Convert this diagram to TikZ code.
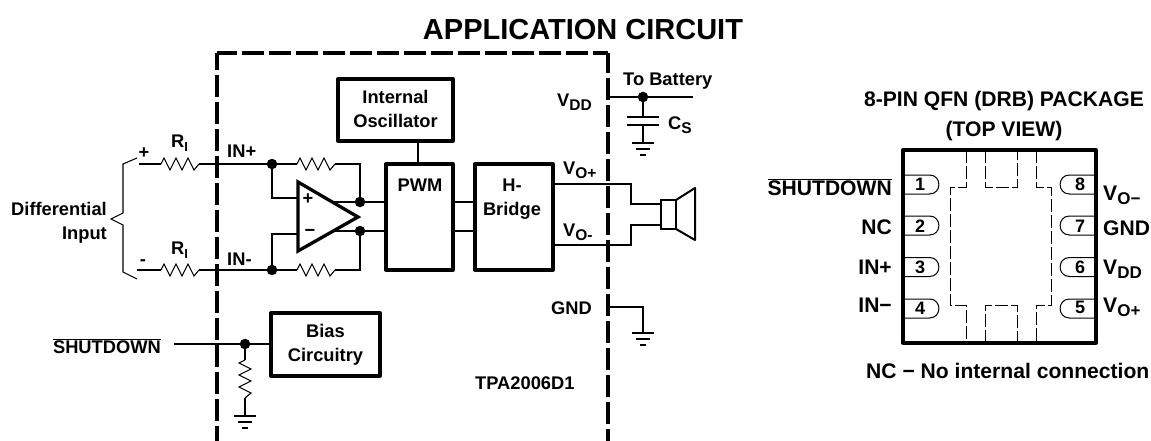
\documentclass[tikz,border=0pt]{standalone}
\usepackage{fontspec}
\setmainfont{Liberation Sans}
\newcommand{\lowsub}[2][15.5]{\raisebox{-4pt}{\fontsize{#1}{#1}\selectfont #2}}
\newcommand{\barred}[1]{$\overline{\mbox{#1}}$}
\begin{document}
\begin{tikzpicture}[x=1pt,y=-1pt]

\tikzset{mybox/.style={rectangle,draw,line width=3.3pt,inner sep=0pt,line join=round},}
\tikzset{mydot/.style={circle,fill=black,minimum size=10.5pt,inner sep=0pt,},}
\tikzset{mywire/.style={line width=1.1pt,},}
\tikzset{mydash/.style={line width=3.5pt,dash pattern=on 22pt off 5pt},}
\tikzset{mylabel/.style={inner sep=0pt,align=center,font=\fontsize{18.3}{24}\selectfont\bfseries},}
\tikzset{mylabel2/.style={inner sep=0pt,align=center,font=\fontsize{21.1}{30}\selectfont\bfseries},}
\tikzset{mypin/.style={inner sep=0pt,font=\fontsize{18}{20}\selectfont\bfseries},}
\tikzset{myhole/.style={line width=1pt,dash pattern=on 13pt off 3pt},}
\tikzset{mygnd/.pic={
  \draw[line width=1.1pt] (-11,0) -- (11,0);
  \draw[line width=1.1pt] (-7,6) -- (7,6);
  \draw[line width=1.1pt] (-3,12) -- (3,12);
},}
\tikzset{myres/.pic={
  \draw[line width=1.1pt] (0,0) -- (3,-6) -- (9,6) -- (15,-6) -- (21,6) -- (27,-6) -- (33,6) -- (38,0);
},}
\tikzset{myresv/.pic={
  \draw[line width=1.1pt] (0,0) -- (-6,3) -- (6,9) -- (-6,15) -- (6,21) -- (-6,27) -- (6,33) -- (0,38);
},}

\useasboundingbox (0,0) rectangle (1151,441);

\draw (583,30) node [inner sep=0pt,font=\fontsize{29}{30}\selectfont\bfseries] (title) {APPLICATION CIRCUIT};

%CHIP
\coordinate (chipa) at (217,441);
\coordinate (chipb) at (217,53);
\coordinate (chipc) at (608,53);
\coordinate (chipd) at (608,441);
\draw[mydash,dash phase=5pt] (chipb) -- (chipa);
\draw[mydash,dash phase=2pt] (chipb) -- (chipc);
\draw[mydash,dash phase=2pt] (chipc) -- (chipd);

%BOXES
\draw (395.5,110) node [mybox,minimum width=115,minimum height=62] (osc) {};
\draw (395.5,109) node [mylabel] (osctxt) {Internal\\Oscillator};
\draw (419.5,217) node [mybox,minimum width=67,minimum height=106] (pwm) {};
\draw (420,185) node [mylabel] (pwmtxt) {PWM};
\draw (514,217) node [mybox,minimum width=78,minimum height=106] (bridge) {};
\draw (512,199) node [mylabel] (bridgetxt) {H-\\Bridge};
\draw (325.5,344.5) node [mybox,minimum width=109,minimum height=63] (bias) {};
\draw (325.5,345) node [mylabel] (biastxt) {Bias\\Circuitry};

%INPUT
\coordinate (ina) at (139,164);
\coordinate (inb) at (137,270);
\coordinate (ria) at (161,164);
\coordinate (rib) at (199,164);
\coordinate (ric) at (161,270);
\coordinate (rid) at (199,270);
\draw (272,164) node [mydot] (dota) {};
\draw (272,270) node [mydot] (dotb) {};
\draw[mywire] (ina) -- (ria);
\draw[mywire] (rib) -- (dota);
\draw[mywire] (inb) -- (ric);
\draw[mywire] (rid) -- (dotb);
\draw (ria) pic {myres};
\draw (ric) pic {myres};
\draw[line width=1.1pt] (137,158) -- (123,164) -- (123,213) -- (111,219) -- (123,225) -- (123,272) -- (137,279);

%AMPLIFIER
\coordinate (opa) at (298,182);
\coordinate (opb) at (298,251);
\coordinate (opc) at (358,217);
\coordinate (opplus) at (298,198);
\coordinate (opminus) at (298,234);
\coordinate (opout) at (332,202);
\coordinate (opoutb) at (333,231);
\coordinate (cornera) at (272,198);
\coordinate (cornerb) at (272,234);
\coordinate (fba) at (297,164);
\coordinate (fbb) at (335,164);
\coordinate (fbc) at (297,270);
\coordinate (fbd) at (335,270);
\coordinate (fbe) at (360,164);
\coordinate (fbf) at (360,270);
\draw (360,202) node [mydot] (dotc) {};
\draw (360,231) node [mydot] (dotd) {};
\draw[mywire] (dota) -- (fba);
\draw[mywire] (dotb) -- (fbc);
\draw (fba) pic {myres};
\draw (fbc) pic {myres};
\draw[mywire] (fbb) -- (fbe) -- (dotc);
\draw[mywire] (fbd) -- (fbf) -- (dotd);
\draw[mywire] (dota) -- (cornera) -- (opplus);
\draw[mywire] (dotb) -- (cornerb) -- (opminus);
\draw[line width=3.3pt,line join=miter] (opa) -- (opb) -- (opc) -- cycle;
\draw[mywire] (opout) -- (dotc);
\draw[mywire] (opoutb) -- (dotd);
\coordinate (pwma) at (386,202);
\coordinate (pwmb) at (386,231);
\coordinate (pwmc) at (453,202);
\coordinate (pwmd) at (453,231);
\coordinate (bra) at (475,202);
\coordinate (brb) at (475,231);
\coordinate (oscb) at (418,141);
\coordinate (pwmt) at (418,164);
\draw[mywire] (dotc) -- (pwma);
\draw[mywire] (dotd) -- (pwmb);
\draw[mywire] (pwmc) -- (bra);
\draw[mywire] (pwmd) -- (brb);
\draw[mywire] (oscb) -- (pwmt);
\draw (308,199) node [mylabel] (oplus) {+};
\draw (310,233) node [mylabel] (ominus) {−};

%SHUTDOWN
\coordinate (sda) at (174,344);
\coordinate (sdb) at (271,344);
\coordinate (sdc) at (245,360);
\coordinate (sdd) at (245,398);
\coordinate (sde) at (245,416);
\draw (245,344) node [mydot] (dote) {};
\draw[mywire] (sda) -- (dote);
\draw[mywire] (dote) -- (sdb);
\draw[mywire] (dote) -- (sdc);
\draw (sdc) pic {myresv};
\draw[mywire] (sdd) -- (sde);
\draw (sde) pic {mygnd};

%SUPPLY
\coordinate (vdda) at (608,97);
\coordinate (vddb) at (693,97);
\coordinate (capa) at (643,117);
\coordinate (capb) at (643,125);
\coordinate (capc) at (643,143);
\draw (643,97) node [mydot] (dotf) {};
\draw[mywire] (vdda) -- (vddb);
\draw[mywire] (dotf) -- (capa);
\draw[mywire] (capb) -- (capc);
\draw[mywire] (627,117) -- (659,117);
\draw[mywire] (627,125) -- (659,125);
\draw (capc) pic {mygnd};
\coordinate (gnda) at (608,307);
\coordinate (gndb) at (643,307);
\coordinate (gndc) at (643,333);
\draw[mywire] (gnda) -- (gndb) -- (gndc);
\draw (gndc) pic {mygnd};

%SPEAKER
\draw (668.5,214.5) node [rectangle,draw,line width=2pt,inner sep=0pt,minimum width=15,minimum height=29] (spk) {};
\draw[line width=2pt,line join=round] (676,200) -- (695,188) -- (695,240) -- (676,229);
\coordinate (voa) at (553,184);
\coordinate (vob) at (631,184);
\coordinate (voc) at (631,204);
\coordinate (vod) at (661,204);
\coordinate (voe) at (553,245);
\coordinate (vof) at (631,245);
\coordinate (vog) at (631,225);
\coordinate (voh) at (661,225);
\draw[mywire] (voa) -- (vob) -- (voc) -- (vod);
\draw[mywire] (voe) -- (vof) -- (vog) -- (voh);

%LABELS
\draw (227,157.5) node [mylabel,anchor=base west] (lina) {IN+};
\draw (227,265.5) node [mylabel,anchor=base west] (linb) {IN-};
\draw (171,147.5) node [mylabel,anchor=base west] (lra) {R\lowsub[13]{I}};
\draw (171,254.5) node [mylabel,anchor=base west] (lrb) {R\lowsub[13]{I}};
\draw (144,158) node [mylabel,anchor=base] (lplus) {+};
\draw (143,265) node [mylabel,anchor=base] (lminus) {-};
\draw (107,223) node [mylabel,align=right,anchor=east] (ldiff) {Differential\\Input};
\draw (161,353.5) node [mylabel,anchor=base east] (lsd) {\barred{SHUTDOWN}};
\draw (563,174.5) node [mylabel,anchor=base west] (lvop) {V\lowsub{O+}};
\draw (563,236.5) node [mylabel,anchor=base west] (lvom) {V\lowsub{O-}};
\draw (592,106.5) node [mylabel,anchor=base east] (lvdd) {V\lowsub{DD}};
\draw (623,85.5) node [mylabel,anchor=base west] (lbat) {To Battery};
\draw (668,129.5) node [mylabel,anchor=base west] (lcs) {C\lowsub{S}};
\draw (592,314.5) node [mylabel,anchor=base east] (lgnd) {GND};
\draw (475,389.5) node [mylabel,anchor=base west] (lchip) {TPA2006D1};

%PACKAGE
\draw (1004,116.5) node [mylabel2] (ptitle) {8-PIN QFN (DRB) PACKAGE\\(TOP VIEW)};
\draw (999.5,246.5) node [mybox,minimum width=193,minimum height=193] (pkg) {};

\draw[line width=1pt] (903,175) -- (929.5,175) .. controls (942,175) and (942,194) .. (929.5,194) -- (903,194);
\draw[line width=1pt] (903,216) -- (929.5,216) .. controls (942,216) and (942,235) .. (929.5,235) -- (903,235);
\draw[line width=1pt] (903,257.5) -- (929.5,257.5) .. controls (942,257.5) and (942,276.5) .. (929.5,276.5) -- (903,276.5);
\draw[line width=1pt] (903,299) -- (929.5,299) .. controls (942,299) and (942,318) .. (929.5,318) -- (903,318);
\draw[line width=1pt] (1096,175) -- (1069.5,175) .. controls (1057,175) and (1057,194) .. (1069.5,194) -- (1096,194);
\draw[line width=1pt] (1096,216) -- (1069.5,216) .. controls (1057,216) and (1057,235) .. (1069.5,235) -- (1096,235);
\draw[line width=1pt] (1096,257.5) -- (1069.5,257.5) .. controls (1057,257.5) and (1057,276.5) .. (1069.5,276.5) -- (1096,276.5);
\draw[line width=1pt] (1096,299) -- (1069.5,299) .. controls (1057,299) and (1057,318) .. (1069.5,318) -- (1096,318);

\draw (920,184) node [mypin] (pa) {1};
\draw (920,226) node [mypin] (pb) {2};
\draw (920,267) node [mypin] (pc) {3};
\draw (920,308) node [mypin] (pd) {4};
\draw (1080,307) node [mypin] (pe) {5};
\draw (1080,267) node [mypin] (pf) {6};
\draw (1080,226) node [mypin] (pg) {7};
\draw (1080,184) node [mypin] (ph) {8};

\draw[myhole] (966,150) -- (966,187) -- (950,187) -- (950,305) -- (966,305) -- (966,343);
\draw[myhole] (1036,150) -- (1036,187) -- (1051,187) -- (1051,305) -- (1036,305) -- (1036,343);
\draw[myhole] (985,150) -- (985,187) -- (1017,187) -- (1017,150);
\draw[myhole] (985,343) -- (985,305) -- (1017,305) -- (1017,343);

\draw (892,195.5) node [mylabel2,anchor=base east] (lpa) {\barred{SHUTDOWN}};
\draw (892,234.5) node [mylabel2,anchor=base east] (lpb) {NC};
\draw (892,274.5) node [mylabel2,anchor=base east] (lpc) {IN+};
\draw (892,312.5) node [mylabel2,anchor=base east] (lpd) {IN−};
\draw (1103,200.5) node [mylabel2,anchor=base west] (lpe) {V\lowsub[17]{O−}};
\draw (1103,235.5) node [mylabel2,anchor=base west] (lpf) {GND};
\draw (1103,274.5) node [mylabel2,anchor=base west] (lpg) {V\lowsub[17]{DD}};
\draw (1103,312.5) node [mylabel2,anchor=base west] (lph) {V\lowsub[17]{O+}};
\draw (866,378.5) node [mylabel2,anchor=base west] (lnc) {NC − No internal connection};

\end{tikzpicture}
\end{document}
